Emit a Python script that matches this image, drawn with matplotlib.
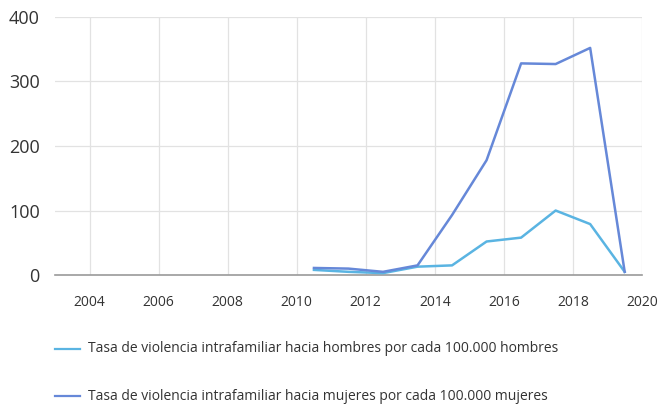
import matplotlib
matplotlib.use("Agg")
import matplotlib.pyplot as plt
from matplotlib.lines import Line2D

plt.rcParams['font.family'] = ['Open Sans', 'DejaVu Sans']

years = [2010.5, 2011.5, 2012.5, 2013.5, 2014.5, 2015.5, 2016.5, 2017.5, 2018.5, 2019.5]
hombres = [8, 5, 3, 13, 15, 52, 58, 100, 79, 5]
mujeres = [11, 10, 5, 15, 93, 178, 328, 327, 352, 5]

x_ticks = [2004, 2006, 2008, 2010, 2012, 2014, 2016, 2018, 2020]
y_ticks = [0, 100, 200, 300, 400]

label_h = "Tasa de violencia intrafamiliar hacia hombres por cada 100.000 hombres"
label_m = "Tasa de violencia intrafamiliar hacia mujeres por cada 100.000 mujeres"

color_h = "#5ab4e2"
color_m = "#6688d8"

fig = plt.figure(figsize=(6.58, 4.13), dpi=100)
ax = fig.add_axes([0.0836, 0.334, 0.892, 0.625])

ax.plot(years, hombres, color=color_h, lw=1.8, zorder=3)
ax.plot(years, mujeres, color=color_m, lw=1.8, zorder=3)

ax.set_xlim(2003, 2020)
ax.set_ylim(0, 400)
ax.set_xticks(x_ticks)
ax.set_yticks(y_ticks)
ax.tick_params(axis='x', labelsize=10, length=0, pad=14, colors='#333333')
ax.tick_params(axis='y', labelsize=13, length=0, pad=11, colors='#333333')
ax.grid(True, color='#e2e2e2', lw=0.9)
ax.set_axisbelow(True)
for side in ['top', 'right', 'left']:
    ax.spines[side].set_visible(False)
ax.spines['bottom'].set_color('#9a9a9a')
ax.spines['bottom'].set_linewidth(1.2)

# legend drawn as rows beneath the plot
for y_pos, col, txt in [(1 - 349 / 413, color_h, label_h), (1 - 396 / 413, color_m, label_m)]:
    fig.add_artist(Line2D([55 / 658, 80 / 658], [y_pos, y_pos], color=col, lw=1.6,
                          transform=fig.transFigure))
    fig.text(88 / 658, y_pos, txt, fontsize=10, va='center', ha='left', color='#333333')

fig.savefig("out.png", dpi=100)
